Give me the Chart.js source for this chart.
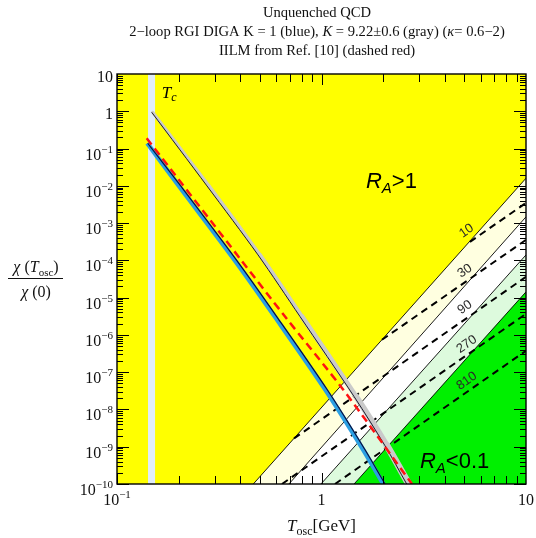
<!DOCTYPE html>
<html>
<head>
<meta charset="utf-8">
<script src="https://cdn.jsdelivr.net/npm/chart.js@4"></script>
<style>
  html, body { margin: 0; padding: 0; background: #ffffff; }
  #wrap { width: 536px; height: 538px; }
</style>
</head>
<body>
<div id="wrap"><canvas id="chart" width="536" height="538"></canvas></div>
<script>
// ---- axis ranges and tick labels ----
const xRange = [0.1, 10];
const yRange = [1e-10, 10];
const xTickValues = [0.1, 1, 10];
const xTickBase = ['10', '1', '10'];
const xTickExp = ['\u22121', '', ''];
const yTickValues = [10, 1, 1e-1, 1e-2, 1e-3, 1e-4, 1e-5, 1e-6, 1e-7, 1e-8, 1e-9, 1e-10];
const yTickBase = ['10', '1', '10', '10', '10', '10', '10', '10', '10', '10', '10', '10'];
const yTickExp = ['', '', '\u22121', '\u22122', '\u22123', '\u22124', '\u22125', '\u22126', '\u22127', '\u22128', '\u22129', '\u221210'];

// ---- critical temperature strip (GeV) ----
const tcBand = [0.1418, 0.1535];

// ---- topological susceptibility ratio chi(T)/chi(0) ----
// 2-loop RGI DIGA, K = 1 (blue)
const blueX = [0.1413, 0.2048, 0.3848, 0.6037, 1.067, 1.632, 2.045];
const blueY = [0.1387, 9.93e-3, 1.0e-4, 3.11e-6, 3.37e-8, 8.3e-10, 1e-10];
const blueBandX = [0.1406, 0.2008, 0.377, 0.591, 1.045, 1.600, 2.005];
// K = 9.22 +- 0.6 (gray)
const grayX = [0.1478, 0.2754, 0.4893, 0.785, 1.442, 2.045, 2.61];
const grayY = [0.94, 9.93e-3, 1.40e-4, 3.11e-6, 2.23e-8, 1.06e-9, 1e-10];
const grayBandX = [0.1495, 0.282, 0.500, 0.803, 1.475, 2.09, 2.67];
// IILM (dashed red)
const redX = [0.1397, 0.4040, 0.663, 1.278, 2.77];
const redY = [0.189, 1.03e-4, 3.11e-6, 3.37e-8, 1e-10];

// ---- R_A region boundaries (straight in log-log) ----
const boundaryBottomX = [0.464, 0.693, 0.994, 1.443];     // where each boundary meets chi = 1e-10
const boundaryRightY = [0.0160, 1.47e-3, 1.40e-4, 1.43e-5]; // value at T = 10 GeV

// ---- dashed contours ----
const contourLabels = ['10', '30', '90', '270', '810'];
const contourStartX = [5.32, 1.976, 0.734, 0.641, 1.164];
const contourStartY = [3.13e-4, 7.4e-7, 1.67e-9, 1e-10, 1e-10];
const contourEndY = [3.48e-3, 3.55e-4, 3.61e-5, 3.68e-6, 3.75e-7]; // at T = 10 GeV
const contourLabelX = [5.12, 5.03, 5.03, 5.13, 5.13];
const contourLabelY = [6.2e-4, 5.2e-5, 5.5e-6, 5.6e-7, 5.8e-8];

// ---- in-plot annotations (data coordinates) ----
const raHighPos = [1.65, 8.8e-3];
const raLowPos = [3.03, 2.73e-10];
const tcLabelPos = [0.1654, 2.27];

// ---- styles ----
const SERIF = '"Liberation Serif", "DejaVu Serif", "Times New Roman", serif';
const SANS = '"Liberation Sans", Arial, Helvetica, sans-serif';
const regionColors = ['#ffffe0', '#ffffff', '#ddfadd', '#00f000'];
const grayBandWidth = [3, 3.5, 4, 5, 6, 7];

function pts(xs, ys) { return xs.map((x, i) => ({ x: x, y: ys[i] })); }

const datasets = [];
datasets.push({
  data: pts([tcBand[0], tcBand[0], tcBand[1], tcBand[1]], [yRange[0], yRange[1], yRange[1], yRange[0]]),
  fill: 'shape', backgroundColor: '#e2eef9', borderWidth: 0, order: 95
});
boundaryBottomX.forEach((bx, i) => {
  datasets.push({
    data: pts([bx, xRange[1], xRange[1]], [yRange[0], boundaryRightY[i], yRange[0]]),
    fill: 'shape', backgroundColor: regionColors[i], borderWidth: 0, order: 90 - i
  });
});
boundaryBottomX.forEach((bx, i) => {
  datasets.push({
    data: pts([bx, xRange[1]], [yRange[0], boundaryRightY[i]]),
    borderColor: '#000000', borderWidth: 0.9, order: 70
  });
});
contourStartX.forEach((sx, i) => {
  datasets.push({
    data: pts([sx, xRange[1]], [contourStartY[i], contourEndY[i]]),
    borderColor: '#000000', borderWidth: 2, borderDash: [7, 5], order: 60
  });
});
datasets.push({
  data: pts(grayBandX, grayY), borderColor: '#cacaca', borderWidth: 5, tension: 0.3,
  borderCapStyle: 'round', borderJoinStyle: 'round',
  segment: { borderWidth: c => grayBandWidth[c.p0DataIndex] }, order: 50
});
datasets.push({ data: pts(grayX, grayY), borderColor: '#1c1c2c', borderWidth: 1, tension: 0.3, order: 49 });
datasets.push({ data: pts(blueBandX, blueY), borderColor: '#2c9fe2', borderWidth: 4.5, tension: 0.3, order: 48 });
datasets.push({ data: pts(blueX, blueY), borderColor: '#0c0c3a', borderWidth: 1.2, tension: 0.3, order: 47 });
datasets.push({ data: pts(redX, redY), borderColor: '#ff1212', borderWidth: 2.5, borderDash: [8, 5], tension: 0.3, order: 40 });

// draw a run of mixed-style text pieces
function runsWidth(ctx, runs) {
  let w = 0;
  for (const r of runs) { ctx.font = r.font; w += ctx.measureText(r.t).width + (r.dx || 0); }
  return w;
}
function drawRuns(ctx, runs, x, y, align) {
  const w = runsWidth(ctx, runs);
  let cx = align === 'right' ? x - w : (align === 'center' ? x - w / 2 : x);
  ctx.textAlign = 'left';
  ctx.textBaseline = 'alphabetic';
  for (const r of runs) {
    ctx.font = r.font;
    cx += (r.dx || 0);
    ctx.fillText(r.t, cx, y + (r.dy || 0));
    cx += ctx.measureText(r.t).width;
  }
  return w;
}

const frameAndText = {
  id: 'frameAndText',
  beforeDraw(chart) {
    const { ctx, chartArea: a } = chart;
    ctx.save();
    ctx.fillStyle = '#ffff00';
    ctx.fillRect(a.left, a.top, a.right - a.left, a.bottom - a.top);
    ctx.restore();
  },
  afterDatasetsDraw(chart) {
    const { ctx, chartArea: a, scales } = chart;
    const xs = scales.x, ys = scales.y;
    ctx.save();
    // contour labels
    ctx.fillStyle = '#2a2a2a';
    ctx.font = '13px ' + SANS;
    ctx.textAlign = 'center';
    ctx.textBaseline = 'middle';
    contourLabels.forEach((t, i) => {
      const px = xs.getPixelForValue(contourLabelX[i]);
      const py = ys.getPixelForValue(contourLabelY[i]);
      ctx.save();
      ctx.translate(px, py);
      ctx.rotate(-35 * Math.PI / 180);
      ctx.fillText(t, 0, 0);
      ctx.restore();
    });
    // R_A annotations
    ctx.fillStyle = '#000000';
    drawRuns(ctx, [
      { t: 'R', font: 'italic 22px ' + SANS },
      { t: 'A', font: 'italic 15px ' + SANS, dy: 5 },
      { t: '>1', font: '22px ' + SANS }
    ], xs.getPixelForValue(raHighPos[0]), ys.getPixelForValue(raHighPos[1]), 'left');
    drawRuns(ctx, [
      { t: 'R', font: 'italic 22px ' + SANS },
      { t: 'A', font: 'italic 15px ' + SANS, dy: 5 },
      { t: '<0.1', font: '22px ' + SANS }
    ], xs.getPixelForValue(raLowPos[0]), ys.getPixelForValue(raLowPos[1]), 'left');
    drawRuns(ctx, [
      { t: 'T', font: 'italic 17px ' + SERIF },
      { t: 'c', font: 'italic 12px ' + SERIF, dy: 3 }
    ], xs.getPixelForValue(tcLabelPos[0]), ys.getPixelForValue(tcLabelPos[1]), 'left');

    // ticks on all four sides, pointing inward
    ctx.strokeStyle = '#000000';
    ctx.lineWidth = 1;
    ctx.beginPath();
    for (let d = -10; d <= 0; d++) {
      for (let m = 1; m <= 9; m++) {
        const v = m * Math.pow(10, d);
        const py = Math.round(ys.getPixelForValue(v)) + 0.5;
        const len = m === 1 ? 12 : 6;
        ctx.moveTo(a.left, py); ctx.lineTo(a.left + len, py);
        ctx.moveTo(a.right, py); ctx.lineTo(a.right - len, py);
      }
    }
    for (let d = -1; d <= 0; d++) {
      for (let m = 1; m <= 9; m++) {
        const v = m * Math.pow(10, d);
        const px = Math.round(xs.getPixelForValue(v)) + 0.5;
        const len = m === 1 ? 11 : 8;
        ctx.moveTo(px, a.bottom); ctx.lineTo(px, a.bottom - len);
        ctx.moveTo(px, a.top); ctx.lineTo(px, a.top + len);
      }
    }
    ctx.stroke();
    // frame
    ctx.lineWidth = 1.4;
    ctx.strokeRect(a.left, a.top, a.right - a.left, a.bottom - a.top);
    ctx.restore();
  },
  afterDraw(chart) {
    const { ctx, chartArea: a, scales } = chart;
    const xs = scales.x, ys = scales.y;
    ctx.save();
    ctx.fillStyle = '#111111';
    const base = '16px ' + SERIF, sup = '11px ' + SERIF;
    // y tick labels
    yTickValues.forEach((v, i) => {
      const py = ys.getPixelForValue(v);
      const runs = [{ t: yTickBase[i], font: base }];
      if (yTickExp[i]) runs.push({ t: yTickExp[i], font: sup, dy: -7 });
      drawRuns(ctx, runs, a.left - 4, py + (yTickExp[i] ? 11 : 7.5), 'right');
    });
    // x tick labels
    xTickValues.forEach((v, i) => {
      const px = xs.getPixelForValue(v);
      const runs = [{ t: xTickBase[i], font: base }];
      if (xTickExp[i]) runs.push({ t: xTickExp[i], font: sup, dy: -7 });
      drawRuns(ctx, runs, px, a.bottom + 21, 'center');
    });
    // x axis title
    drawRuns(ctx, [
      { t: 'T', font: 'italic 17px ' + SERIF },
      { t: 'osc', font: '12px ' + SERIF, dy: 4 },
      { t: '[GeV]', font: '17px ' + SERIF }
    ], (a.left + a.right) / 2, 531, 'center');
    // y axis title (fraction)
    const cx = 36;
    drawRuns(ctx, [
      { t: '\u03c7', font: 'italic 16px ' + SERIF },
      { t: ' (', font: '16px ' + SERIF },
      { t: 'T', font: 'italic 16px ' + SERIF },
      { t: 'osc', font: '11px ' + SERIF, dy: 4 },
      { t: ')', font: '16px ' + SERIF }
    ], cx, 272, 'center');
    ctx.strokeStyle = '#111111';
    ctx.lineWidth = 1;
    ctx.beginPath();
    ctx.moveTo(8, 278.5); ctx.lineTo(63, 278.5);
    ctx.stroke();
    drawRuns(ctx, [
      { t: '\u03c7', font: 'italic 16px ' + SERIF },
      { t: ' (0)', font: '16px ' + SERIF }
    ], cx, 296.5, 'center');
    // title
    const tf = '14.6px ' + SERIF, ti = 'italic 14.6px ' + SERIF;
    const tx = 317;
    drawRuns(ctx, [{ t: 'Unquenched QCD', font: tf }], tx, 17, 'center');
    drawRuns(ctx, [
      { t: '2\u2212loop RGI DIGA K = 1 (blue), ', font: tf },
      { t: 'K', font: ti },
      { t: ' = 9.22\u00b10.6 (gray) (', font: tf },
      { t: '\u03ba', font: ti },
      { t: '= 0.6\u22122)', font: tf }
    ], tx, 36, 'center');
    drawRuns(ctx, [{ t: 'IILM from Ref. [10] (dashed red)', font: tf }], tx, 55, 'center');
    ctx.restore();
  }
};

new Chart(document.getElementById('chart'), {
  type: 'line',
  data: { datasets: datasets },
  options: {
    responsive: false,
    animation: false,
    layout: { padding: { left: 117, right: 10, top: 74, bottom: 54 } },
    datasets: { line: { clip: 0, pointRadius: 0, fill: false } },
    elements: { point: { radius: 0 } },
    plugins: { legend: { display: false }, tooltip: { enabled: false } },
    scales: {
      x: { type: 'logarithmic', min: xRange[0], max: xRange[1], display: false },
      y: { type: 'logarithmic', min: yRange[0], max: yRange[1], display: false }
    }
  },
  plugins: [frameAndText]
});
</script>
</body>
</html>
